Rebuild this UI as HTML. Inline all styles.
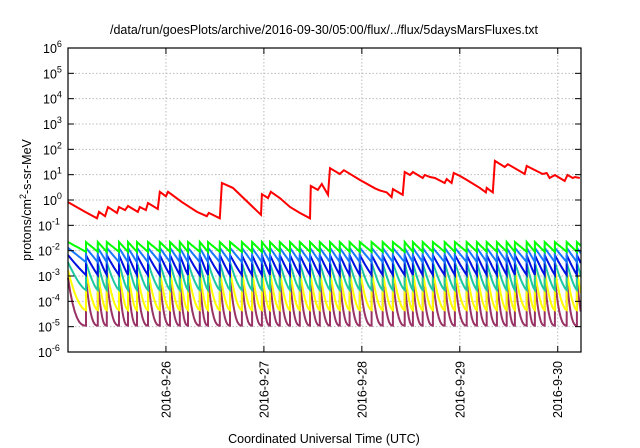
<!DOCTYPE html>
<html><head><meta charset="utf-8">
<style>
body{margin:0;background:#fff;}
svg{display:block;font-family:"Liberation Sans",sans-serif;}
</style></head>
<body>
<svg id="chart" width="640" height="448" viewBox="0 0 640 448">
<rect x="0" y="0" width="640" height="448" fill="#fff"/>
<text x="324" y="34" font-size="12.5" text-anchor="middle">/data/run/goesPlots/archive/2016-09-30/05:00/flux/../flux/5daysMarsFluxes.txt</text>
<g id="grid"></g>
<g id="series"></g>
<rect x="68" y="48" width="513" height="304" fill="none" stroke="#000" stroke-width="1.2"/>
<g id="axes"></g>
<text transform="translate(31,200) rotate(-90)" font-size="12.5" text-anchor="middle">protons/cm<tspan dy="-5" font-size="9">2</tspan><tspan dy="5">-s-sr-MeV</tspan></text>
<text x="324" y="443" font-size="12.5" text-anchor="middle">Coordinated Universal Time (UTC)</text>
</svg>
<script>
// x in hours since 2016-09-25 00:00
const xTickHours = [24, 48, 72, 96, 120];
const xTickLabels = ["2016-9-26","2016-9-27","2016-9-28","2016-9-29","2016-9-30"];
const yTickExps = [-6,-5,-4,-3,-2,-1,0,1,2,3,4,5,6];
const redHours = [0,4.2,7.1,7.6,9.1,9.8,12.0,12.5,14.0,14.7,17.1,17.6,19.1,19.6,22.0,22.5,24.0,24.5,27.9,31.6,34.0,34.5,37.2,37.7,40.4,47.3,47.5,49.0,49.7,51.9,54.4,56.8,59.3,59.5,61.2,62.2,63.7,64.2,66.6,67.6,71.5,75.2,76.4,78.1,79.3,79.6,82.0,82.5,83.8,84.5,86.9,87.4,88.7,89.9,92.3,92.8,94.0,94.5,96.0,97.7,100.9,102.4,102.6,104.1,104.6,107.0,107.8,111.9,112.4,116.3,117.3,118.0,119.3,121.7,122.4,123.7,124.2,125.4];
const redFlux = [0.83,0.34,0.19,0.34,0.23,0.53,0.31,0.53,0.40,0.58,0.34,0.53,0.40,0.76,0.44,2.1,1.4,2.1,0.83,0.34,0.23,0.31,0.19,4.7,3.0,0.26,1.7,1.2,2.1,1.2,0.53,0.31,0.19,3.6,2.5,4.3,1.6,18,10.6,15,6.2,2.9,2.4,2.0,1.3,2.7,1.6,12.7,9.7,12.7,7.4,9.7,8.1,7.4,4.7,6.7,4.7,11.6,8.9,6.2,3.0,2.0,3.0,2.0,35,20,26,10.6,22,10.6,11.6,7.4,9.7,5.6,9.7,7.4,8.1,7.4];
const spikeHours = [0,4.4,7.3,9.5,12.5,14.7,16.9,19.6,22.5,25.0,27.4,29.4,32.3,34.3,37.2,39.7,42.6,45.1,47.5,49.5,51.9,54.4,56.8,59.3,61.7,64.2,66.6,69.0,71.5,74.4,77.1,79.6,82.5,84.5,86.9,89.4,92.3,94.8,97.7,100.2,102.6,105.1,107.5,109.5,112.4,114.4,116.8,119.3,122.2,124.7];
const greenPeak=0.022, greenTrough=0.009;
const lblPeak=0.013, lblTrough=0.0035;
const bluePeak=0.0067, blueTrough=0.0011;
const tealPeak=0.0035, tealTrough=0.00028;
const yellowPeak=0.0017, yellowTrough=0.000045;
const purplePeak=0.00085, purpleTrough=0.000011;

const X0=68,X1=581,Y0=48,Y1=352,HMAX=125.7,EMIN=-6,EMAX=6;
const xs=h=>X0+(h/HMAX)*(X1-X0);
const ys=v=>Y1-(Math.log10(v)-EMIN)/(EMAX-EMIN)*(Y1-Y0);
const NS="http://www.w3.org/2000/svg";
const grid=document.getElementById('grid'),axes=document.getElementById('axes'),ser=document.getElementById('series');
function mk(tag,parent,attrs){const e=document.createElementNS(NS,tag);for(const k in attrs)e.setAttribute(k,attrs[k]);parent.appendChild(e);return e;}
yTickExps.forEach(e=>{
  const y=ys(Math.pow(10,e));
  if(e>EMIN&&e<EMAX){const g=mk('line',grid,{x1:X0,x2:X1,y1:y,y2:y,stroke:'#bbb','stroke-dasharray':'1.5,2','stroke-width':1});
  
  }
  const t1=mk('line',axes,{x1:X0,x2:X0+6,y1:y,y2:y,stroke:'#000'});
  
  
  const t2=mk('line',axes,{x1:X1-6,x2:X1,y1:y,y2:y,stroke:'#000'});
  
  
  const tx=mk('text',axes,{x:58,y:y+5,'font-size':12.5,'text-anchor':'start'});
  
  
  tx.textContent='10';
  const sp=mk('tspan',tx,{dy:-6,'font-size':9});sp.textContent=String(e);
  tx.setAttribute('x',62-14-String(e).length*5);
});
xTickHours.forEach((h,i)=>{
  const x=xs(h);
  const g=mk('line',grid,{x1:x,x2:x,y1:Y0,y2:Y1,stroke:'#bbb','stroke-dasharray':'1.5,2','stroke-width':1});
  
  
  const t=mk('line',axes,{x1:x,x2:x,y1:Y1-6,y2:Y1,stroke:'#000'});
  
  
  const t2=mk('line',axes,{x1:x,x2:x,y1:Y0,y2:Y0+6,stroke:'#000'});
  
  
  const tx=mk('text',axes,{transform:`translate(${x+4.5},${361}) rotate(-90)`,'font-size':12.5,'text-anchor':'end'});
  
  
  tx.textContent=xTickLabels[i];
});
function sawtooth(peak,trough,k){
  const lp=Math.log10(peak),lt=Math.log10(trough);let pts=[];
  for(let i=0;i<spikeHours.length;i++){
    const a=spikeHours[i],b=i+1<spikeHours.length?spikeHours[i+1]:HMAX;
    const span=(i+1<spikeHours.length?b-a:2.5);
    for(let s=0;s<=8;s++){const t=s/8,h=a+t*span;if(h>HMAX)break;
      const l=lt+(lp-lt)*Math.pow(1-t,k);pts.push([xs(h),ys(Math.pow(10,l))]);}
  }
  return pts;
}
const defs=[["purple-series","#993366",purplePeak,purpleTrough,2.6],["yellow-series","#ffff00",yellowPeak,yellowTrough,1.8],["teal-series","#1ec8a0",tealPeak,tealTrough,1.4],["blue-series","#0010e0",bluePeak,blueTrough,1.1],["lightblue-series","#1a78ff",lblPeak,lblTrough,1.0],["green-series","#00ff00",greenPeak,greenTrough,1.0]];
defs.forEach(d=>{
  const p=mk('polyline',ser,{points:sawtooth(d[2],d[3],d[4]).map(q=>q[0].toFixed(1)+','+q[1].toFixed(1)).join(' '),fill:'none',stroke:d[1],'stroke-width':2});
  
  
});
const red=mk('polyline',ser,{points:redHours.map((h,i)=>xs(h).toFixed(1)+','+ys(redFlux[i]).toFixed(1)).join(' '),fill:'none',stroke:'#ff0000','stroke-width':2});


</script>
</body></html>
